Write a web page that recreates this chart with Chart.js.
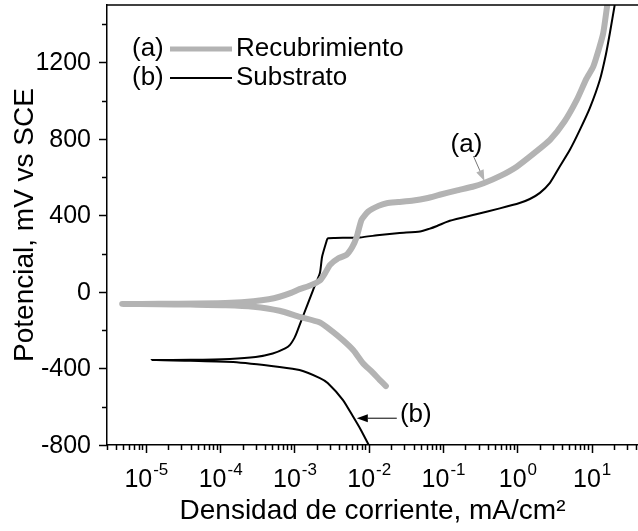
<!DOCTYPE html>
<html>
<head>
<meta charset="utf-8">
<title>Curvas de polarización</title>
<script src="https://cdn.jsdelivr.net/npm/chart.js@4.4.0/dist/chart.umd.min.js"></script>
<style>
  html, body { margin: 0; padding: 0; background: #fff; }
  canvas { display: block; }
</style>
</head>
<body>
<canvas id="polChart" width="638" height="531"></canvas>
<script>
// (a) Recubrimiento: cathodic end -> Ecorr -> anodic end (mA/cm2, mV vs SCE)
const coatingCurrent = [
    0.017, 0.014, 0.011, 0.0083, 0.0062, 0.0045, 0.0032, 0.0022, 0.00117, 0.00063, 0.00028,
    0.00012, 0.00004, 0.000015, 0.0000048,
    0.000015, 0.00005, 0.00014, 0.00028, 0.00045, 0.00063, 0.0009, 0.00117, 0.0016, 0.0022,
    0.0026, 0.003, 0.0039, 0.005, 0.006, 0.0069, 0.008, 0.0098, 0.0135, 0.0174,
    0.025, 0.04, 0.06, 0.09, 0.15, 0.25, 0.35, 0.6, 0.98, 1.7, 2.75, 4.3, 6.3, 8.5,
    10.5, 12.5, 14.3, 16.2
];
const coatingPotential = [
    -492, -459, -417, -371, -305, -253, -205, -160, -130, -98, -77,
    -69, -66, -64, -63,
    -62, -60, -56, -48, -38, -25, -5, 15, 33, 60,
    100, 141, 176, 194, 235, 289, 377, 420, 450, 464,
    470, 478, 490, 508, 530, 550, 568, 608, 655, 727, 795, 891, 1004, 1115,
    1178, 1270, 1353, 1500
];

// (b) Substrato
const substrateCurrent = [
    0.0100, 0.0078, 0.0062, 0.0045, 0.0028, 0.0022, 0.00117, 0.00063, 0.00015, 0.00004, 0.000012,
    0.00004, 0.000135, 0.0003, 0.00051, 0.00075, 0.00087, 0.001, 0.00107, 0.00129, 0.00178,
    0.0022, 0.00235, 0.0027, 0.0028, 0.0035, 0.0076, 0.014, 0.026, 0.049, 0.065, 0.083,
    0.123, 0.27, 0.58, 1.07, 1.47, 2.01, 2.74, 3.7, 5.09, 6.93, 9.46, 12.9, 15.5, 17.6, 20.4
];
const substratePotential = [
    -800, -720, -654, -565, -476, -450, -408, -392, -366, -360, -356,
    -355, -350, -340, -322, -295, -277, -240, -214, -131, 10,
    99, 183, 265, 280, 282, 285, 298, 308, 316, 330, 345,
    372, 405, 437, 465, 486, 518, 570, 654, 743, 847, 962, 1109, 1240, 1355, 1500
];

const seriesNames = ['Recubrimiento', 'Substrato'];
const seriesTags = ['(a)', '(b)'];
const yTickLabels = [-800, -400, 0, 400, 800, 1200];
const xTickExponents = [-5, -4, -3, -2, -1, 0, 1];

const FONT = '"Liberation Sans", Arial, Helvetica, sans-serif';
const GRAY = '#b3b3b3';

function toPoints(xs, ys) {
    return xs.map((v, i) => ({ x: v, y: ys[i] }));
}

function drawArrow(ctx, x0, y0, x1, y1, lineColor, headColor) {
    const ang = Math.atan2(y1 - y0, x1 - x0);
    const len = 11, half = 4;
    ctx.strokeStyle = lineColor;
    ctx.lineWidth = 1;
    ctx.beginPath();
    ctx.moveTo(x0, y0);
    ctx.lineTo(x1 - Math.cos(ang) * len, y1 - Math.sin(ang) * len);
    ctx.stroke();
    ctx.fillStyle = headColor;
    ctx.beginPath();
    ctx.moveTo(x1, y1);
    ctx.lineTo(x1 - Math.cos(ang) * len - Math.sin(ang) * half, y1 - Math.sin(ang) * len + Math.cos(ang) * half);
    ctx.lineTo(x1 - Math.cos(ang) * len + Math.sin(ang) * half, y1 - Math.sin(ang) * len - Math.cos(ang) * half);
    ctx.closePath();
    ctx.fill();
}

// ticks, tick labels, legend and callouts in the Origin style
const axisDecor = {
    id: 'axisDecor',
    afterDraw(chart) {
        const { ctx, chartArea, scales: { x, y } } = chart;
        ctx.save();
        ctx.strokeStyle = '#000';
        ctx.fillStyle = '#000';
        ctx.lineWidth = 1.5;

        // top frame line
        ctx.beginPath();
        ctx.moveTo(chartArea.left, chartArea.top);
        ctx.lineTo(chartArea.right, chartArea.top);
        ctx.stroke();

        // y ticks (major every 400, minor every 200)
        for (let v = y.min; v <= y.max; v += 200) {
            const py = Math.round(y.getPixelForValue(v)) + 0.5;
            const len = yTickLabels.includes(v) ? 8 : 5;
            ctx.beginPath();
            ctx.moveTo(chartArea.left - len, py);
            ctx.lineTo(chartArea.left, py);
            ctx.stroke();
        }
        ctx.font = '25px ' + FONT;
        ctx.textAlign = 'right';
        ctx.textBaseline = 'middle';
        yTickLabels.forEach(v => {
            ctx.fillText(String(v), chartArea.left - 16, y.getPixelForValue(v) + 1);
        });

        // x ticks (decades major, 2..9 minor)
        for (let e = -6; e <= 2; e++) {
            for (let m = 1; m <= 9; m++) {
                const v = m * Math.pow(10, e);
                if (v < x.min || v > x.max) continue;
                const px = Math.round(x.getPixelForValue(v)) + 0.5;
                const len = m === 1 ? 8 : 5;
                ctx.beginPath();
                ctx.moveTo(px, chartArea.bottom);
                ctx.lineTo(px, chartArea.bottom + len);
                ctx.stroke();
            }
        }
        ctx.textAlign = 'left';
        ctx.textBaseline = 'alphabetic';
        xTickExponents.forEach(e => {
            const px = x.getPixelForValue(Math.pow(10, e));
            const exp = String(e);
            ctx.font = '25px ' + FONT;
            const wBase = ctx.measureText('10').width;
            ctx.font = '17px ' + FONT;
            const wExp = ctx.measureText(exp).width;
            const x0 = px - (wBase + wExp) / 2;
            ctx.font = '25px ' + FONT;
            ctx.fillText('10', x0, chartArea.bottom + 42);
            ctx.font = '17px ' + FONT;
            ctx.fillText(exp, x0 + wBase + 1, chartArea.bottom + 30);
        });

        // legend
        ctx.font = '26px ' + FONT;
        ctx.textBaseline = 'middle';
        chart.data.datasets.forEach((ds, i) => {
            const ly = chartArea.top + 44 + i * 29;
            ctx.fillStyle = '#000';
            ctx.fillText(seriesTags[i], chartArea.left + 25, ly);
            ctx.strokeStyle = ds.borderColor;
            ctx.lineWidth = i === 0 ? 5 : 2;
            ctx.beginPath();
            ctx.moveTo(chartArea.left + 63, ly);
            ctx.lineTo(chartArea.left + 125, ly);
            ctx.stroke();
            ctx.fillText(seriesNames[i], chartArea.left + 129, ly);
        });

        // callouts
        const tipA = { x: x.getPixelForValue(0.36), y: y.getPixelForValue(580) };
        ctx.fillStyle = '#000';
        ctx.textAlign = 'center';
        ctx.fillText(seriesTags[0], tipA.x - 18, tipA.y - 36);
        drawArrow(ctx, tipA.x - 11, tipA.y - 25, tipA.x, tipA.y, '#777', GRAY);

        const tipB = { x: x.getPixelForValue(0.0069), y: y.getPixelForValue(-660) };
        ctx.fillStyle = '#000';
        ctx.fillText(seriesTags[1], tipB.x + 59, tipB.y - 3);
        drawArrow(ctx, tipB.x + 40, tipB.y, tipB.x, tipB.y, '#000', '#000');

        ctx.restore();
    }
};

Chart.defaults.font.family = FONT;
Chart.defaults.color = '#000';

new Chart(document.getElementById('polChart').getContext('2d'), {
    type: 'line',
    data: {
        datasets: [
            {
                label: seriesNames[0],
                data: toPoints(coatingCurrent, coatingPotential),
                borderColor: GRAY,
                borderWidth: 6,
                borderCapStyle: 'round',
                borderJoinStyle: 'round',
                pointRadius: 0,
                tension: 0.2
            },
            {
                label: seriesNames[1],
                data: toPoints(substrateCurrent, substratePotential),
                borderColor: '#000',
                borderWidth: 2,
                pointRadius: 0,
                tension: 0.2
            }
        ]
    },
    options: {
        responsive: false,
        animation: false,
        layout: { padding: { top: 5, right: 0, bottom: 0, left: 0 } },
        plugins: {
            legend: { display: false },
            tooltip: { enabled: false }
        },
        scales: {
            x: {
                type: 'logarithmic',
                min: 3e-6,
                max: 42,
                grid: { display: false },
                border: { color: '#000', width: 1.5 },
                ticks: { display: false },
                title: {
                    display: true,
                    text: 'Densidad de corriente, mA/cm²',
                    font: { size: 28 },
                    padding: { top: 0, bottom: 3 }
                },
                afterFit(scale) { scale.height = 86; }
            },
            y: {
                type: 'linear',
                min: -800,
                max: 1500,
                grid: { display: false },
                border: { color: '#000', width: 1.5 },
                ticks: { display: false },
                title: {
                    display: true,
                    text: 'Potencial, mV vs SCE',
                    font: { size: 28 },
                    padding: { top: 8, bottom: 0 }
                },
                afterFit(scale) { scale.width = 107; }
            }
        }
    },
    plugins: [axisDecor]
});
</script>
</body>
</html>
